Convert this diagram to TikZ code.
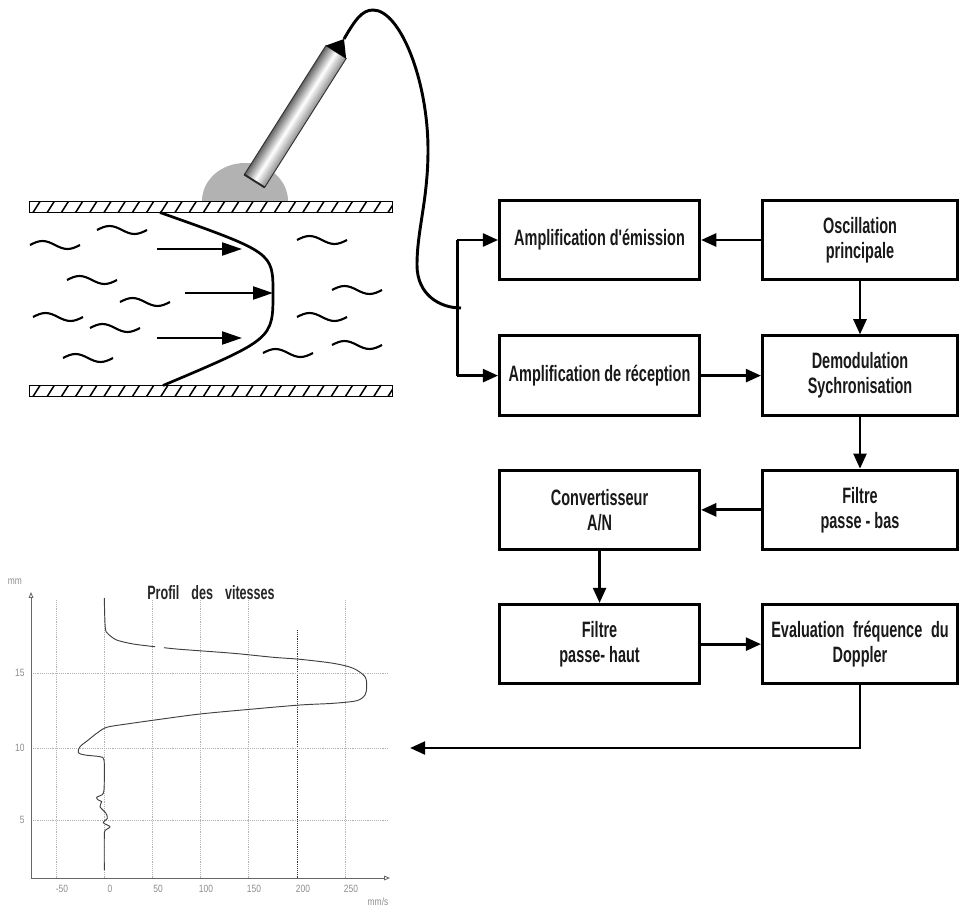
\documentclass[tikz,border=0pt]{standalone}
\usepackage{fontspec}
\setmainfont{Liberation Sans}
\newfontfamily\narrowfont[FakeStretch=0.65]{Liberation Sans}
\newfontfamily\tickfont[FakeStretch=0.8]{Liberation Sans}
\usetikzlibrary{positioning,calc,arrows.meta}

\tikzset{
  block/.style={draw, line width=2.5pt, minimum width=6cm, minimum height=2.38cm, inner sep=2pt,
    align=center, text=black!90, font=\narrowfont\bfseries\fontsize{19}{21.3}\selectfont},
  narrow/.style={minimum width=5.85cm},
  link/.style={line width=2.5pt},
  flow/.style={link, -{Triangle[length=13pt,width=11pt]}},
  stream/.style={line width=2.1pt, -{Triangle[length=17pt,width=11pt]}},
  wall/.style={draw, fill=white, line width=0.8pt},
  ripple/.pic={\draw[line width=1.8pt] (-25,0) sin (-12.5,4) cos (0,0) sin (12.5,-4) cos (25,0);},
  tick/.style={font=\tickfont\fontsize{9}{10}\selectfont, text=black!45, inner sep=1pt},
  gridline/.style={densely dotted, black!30, line width=0.6pt},
  axis/.style={black!60, line width=0.7pt, -{Triangle[open,length=5pt,width=4pt]}}
}

\begin{document}
\begin{tikzpicture}[x=0.03cm, y=0.03cm]
    \useasboundingbox (0,0) rectangle (960,-908);

    % coupling gel under the probe
    \fill[black!30] (202,-201) arc[start angle=180, end angle=0, x radius=43, y radius=38] -- cycle;

    % vessel walls
    \foreach \top in {201.5,385.5} {
        \draw[wall] (29,-\top) rectangle (392,-\top-11);
        \begin{scope}
            \clip (29,-\top) rectangle (392,-\top-11);
            \foreach \x in {33,47.2,...,392}
                \draw[line width=1.3pt] (\x,-\top-11) -- ++(7,11);
        \end{scope}
    }

    % blood particles
    \foreach \x/\y in {55/245,122/230,92/280,145/302,58/317,115/328,88/358,
                       322/240,357/290,322/317,357/345,288/353}
        \pic at (\x,-\y) {ripple};

    % velocity profile and arrows
    \draw[line width=2.3pt] (160,-212.5) .. controls (273,-252.5) .. (273,-293)
                            .. controls (273,-339) .. (163,-385.5);
    \coordinate (v1) at (242,-249);
    \coordinate (v2) at (273,-293);
    \coordinate (v3) at (242,-338);
    \draw[stream] (157,-249) -- (v1);
    \draw[stream] (185,-293) -- (v2);
    \draw[stream] (157,-338) -- (v3);

    % probe body, shaded across its width
    \begin{scope}[transform canvas={shift={(254.5,-181)}, rotate=57.7}]
        \shade[top color=black!60, bottom color=black!45, middle color=white]
            (0,-12) rectangle (152.6,12);
        \draw[black!80, line width=0.8pt] (0,-12) rectangle (152.6,12);
        \draw[black!85, line width=1.6pt] (0,-12) -- (0,12);
    \end{scope}
    % probe head
    \coordinate (headl) at (325.9,-45.6);
    \coordinate (headr) at (346.1,-58.4);
    \coordinate (probetip) at (344,-39);
    \fill (headl) -- (probetip) -- (headr) -- cycle;

    % blocks
    \node[block, narrow] (osc) at (860,-240) {Oscillation\\principale};
    \node[block] (emis) [left=1.8cm of osc] {Amplification d'émission};
    \node[block, narrow] (demod) [below=1.6cm of osc] {Demodulation\\Sychronisation};
    \node[block] (recep) [left=1.8cm of demod] {Amplification de réception};
    \node[block, narrow] (bas) [below=1.56cm of demod] {Filtre\\passe - bas};
    \node[block] (conv) [left=1.8cm of bas] {Convertisseur\\A/N};
    \node[block] (haut) [below=1.56cm of conv] {Filtre\\passe- haut};
    \node[block, narrow] (eval) [right=1.8cm of haut]
        {Evaluation\hspace{0.14cm} fréquence\hspace{0.14cm} du\\Doppler};

    % cable from the probe to the emitter / receiver split
    \coordinate (jtop) at ([xshift=-1.23cm]emis.west);
    \coordinate (jbot) at ([xshift=-1.23cm]recep.west);
    \coordinate (jcable) at (461,-308);
    \draw[link] (probetip) .. controls (355,-20) and (362,-10) .. (373,-10)
        .. controls (400,-10) and (428,-80) .. (428,-150)
        .. controls (428,-200) and (417,-230) .. (417,-265)
        .. controls (417,-295) and (440,-308) .. (jcable);
    \draw[link] (jtop) -- (jbot);
    \draw[flow] (jtop) -- (emis);
    \draw[flow] (jbot) -- (recep);

    % signal chain
    \draw[flow] (osc) -- (emis);
    \draw[flow] (osc) -- (demod);
    \draw[flow] (recep) -- (demod);
    \draw[flow] (demod) -- (bas);
    \draw[flow] (bas) -- (conv);
    \draw[flow] (conv) -- (haut);
    \draw[flow] (haut) -- (eval);
    \coordinate (plotin) at (410,-748);
    \draw[flow] (eval.south) |- (plotin);

    % velocity profile plot
    \coordinate (origin) at (31,-878);
    \foreach \x/\v in {56/-50,104/0,152/50,200/100,248/150,345/250} {
        \draw[gridline] (\x,-600) -- (\x,-878);
        \node[tick] at (\x+6,-889) {\v};
    }
    \draw[densely dotted, black!80, line width=0.6pt] (297,-630) -- (297,-878);
    \node[tick] at (303,-889) {200};
    \foreach \y/\h in {673/15,748/10,820/5} {
        \draw[gridline] (31,-\y) -- (388,-\y);
        \node[tick, anchor=east] at (26,-\y) {\h};
    }
    \draw[axis] (origin) -- (31,-592);
    \draw[axis] (origin) -- (390,-878);
    \node[tick] (ylabel) at (15,-582) {mm};
    \node[tick] (xlabel) at (378,-902) {mm/s};
    \node[font=\narrowfont\bfseries\fontsize{16.5}{18}\selectfont, text=black!85] (title) at (211,-593)
        {Profil\hspace{0.36cm}des\hspace{0.36cm}vitesses};

    \draw[black!75, line width=0.8pt] plot[smooth, tension=0.5] coordinates {
        (104.3,-598) (105.3,-628) (108.3,-634) (116.7,-640) (133.3,-644) (155,-646.7)};
    \draw[black!75, line width=0.8pt] plot[smooth, tension=0.5] coordinates {
        (164,-647.7) (180,-649.3) (233.3,-653.3) (273.3,-657.3) (300,-659.3) (333.3,-663.3)
        (353.3,-668.3) (365,-676.7) (366.7,-686.7) (365,-695) (356.7,-700.7) (333.3,-703.3)
        (300,-705) (250,-709.3) (200,-714) (160,-719.3) (126.7,-724) (106.7,-727.3)
        (96.7,-733.3) (88.3,-740) (80,-746.7) (78.3,-752.7) (85,-755) (100,-756.7)
        (104,-760) (104.3,-780) (103.3,-793.3) (96.7,-797.3) (98.3,-800) (101.7,-801.7)
        (100,-806.7) (106,-813.3) (107.3,-818.3) (103.3,-822.7) (110,-826.7) (105,-830.7)
        (104.3,-836.7) (104.3,-870)};
\end{tikzpicture}
\end{document}
